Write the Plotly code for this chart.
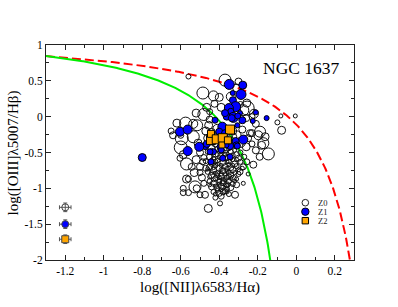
import numpy as np
import plotly.graph_objects as go

# ---------------- data ----------------
# Z0: open circles (x, y, marker diameter)
z0_points = [
    (-0.56, 0.56, 5), (-0.37, 0.51, 12), (-0.30, 0.49, 7), (-0.485, 0.33, 12),
    (-0.43, 0.29, 10), (-0.40, 0.27, 8), (-0.425, 0.18, 7), (-0.465, 0.13, 8),
    (-0.39, 0.13, 8), (-0.255, 0.12, 14), (-0.22, 0.04, 9), (-0.26, -0.02, 7),
    (-0.52, 0.05, 8), (-0.48, 0.03, 12), (-0.45, 0.07, 6), (-0.62, -0.09, 8),
    (-0.575, -0.09, 12), (-0.535, -0.10, 9), (-0.455, -0.12, 8), (-0.515, -0.12, 11),
    (-0.65, -0.20, 6), (-0.64, -0.26, 7), (-0.595, -0.30, 13), (-0.535, -0.28, 12),
    (-0.51, -0.37, 8), (-0.60, -0.43, 13), (-0.587, -0.53, 8), (-0.604, -0.58, 6),
    (-0.57, -0.66, 12), (-0.543, -0.70, 7), (-0.486, -0.63, 6), (-0.50, -0.70, 7),
    (-0.57, -0.87, 8), (-0.49, -0.85, 7), (-0.517, -1.00, 7), (-0.587, -1.00, 6),
    (-0.56, -0.87, 6), (-0.526, -0.98, 12), (-0.587, -1.06, 6), (-0.56, -1.06, 6),
    (-0.50, -1.09, 6), (-0.474, -1.09, 7), (-0.457, -1.28, 8), (-0.396, -1.21, 5),
    (-0.318, -1.09, 7),
    (-0.08, 0.01, 4), (-0.005, 0.01, 4), (-0.098, -0.08, 5), (-0.076, -0.19, 8),
    (-0.24, -0.23, 7), (-0.197, -0.26, 9), (-0.162, -0.28, 8), (-0.188, -0.21, 11),
    (-0.23, -0.23, 7), (-0.171, -0.37, 11), (-0.18, -0.40, 8), (-0.145, -0.52, 12),
    (-0.19, -0.56, 7), (-0.223, -0.67, 7), (-0.257, -0.63, 6), (-0.275, -0.70, 6),
    (-0.292, -0.77, 6), (-0.25, -0.80, 4), (-0.21, -0.47, 7), (-0.23, -0.38, 6),
    (-0.275, -0.93, 4), (-0.31, -0.95, 6), (-0.327, -0.86, 6), (-0.36, -0.95, 6),
    (-0.38, -1.05, 6),
    (-0.46, -0.30, 8), (-0.42, -0.36, 9), (-0.33, -0.28, 8), (-0.29, -0.36, 10),
    (-0.26, -0.42, 8), (-0.37, -0.46, 7), (-0.44, -0.44, 7),
    (-0.46, -0.49, 5), (-0.42, -0.52, 6), (-0.40, -0.48, 5), (-0.37, -0.51, 6),
    (-0.34, -0.49, 5), (-0.31, -0.53, 6), (-0.29, -0.50, 5),
    (-0.45, -0.56, 6), (-0.43, -0.59, 5), (-0.39, -0.55, 5), (-0.36, -0.57, 6),
    (-0.33, -0.54, 5), (-0.30, -0.58, 6), (-0.27, -0.56, 5),
    (-0.47, -0.62, 5), (-0.44, -0.65, 6), (-0.41, -0.61, 5), (-0.38, -0.64, 6),
    (-0.35, -0.62, 5), (-0.32, -0.66, 6), (-0.29, -0.63, 5),
    (-0.45, -0.70, 6), (-0.42, -0.68, 5), (-0.40, -0.72, 6), (-0.37, -0.69, 5),
    (-0.34, -0.71, 6), (-0.31, -0.69, 5), (-0.28, -0.72, 4),
    (-0.46, -0.77, 5), (-0.43, -0.75, 6), (-0.41, -0.79, 5), (-0.38, -0.76, 6),
    (-0.35, -0.78, 5), (-0.33, -0.74, 6), (-0.30, -0.80, 5),
    (-0.44, -0.82, 6), (-0.42, -0.86, 5), (-0.39, -0.83, 6), (-0.36, -0.85, 5),
    (-0.34, -0.82, 6), (-0.31, -0.87, 4),
    (-0.45, -0.90, 5), (-0.43, -0.93, 6), (-0.40, -0.89, 5), (-0.38, -0.92, 6),
    (-0.35, -0.90, 5), (-0.33, -0.94, 5),
    (-0.44, -0.98, 6), (-0.41, -1.00, 5), (-0.39, -0.97, 6), (-0.36, -1.01, 5),
    (-0.34, -0.99, 6),
    (-0.43, -1.05, 5), (-0.40, -1.07, 6), (-0.37, -1.04, 5), (-0.35, -1.08, 5),
    (-0.42, -1.13, 5), (-0.39, -1.11, 6),
    (-0.41, -0.66, 4), (-0.39, -0.74, 4), (-0.36, -0.63, 4), (-0.43, -0.71, 4),
    (-0.37, -0.80, 4), (-0.40, -0.85, 4), (-0.42, -0.79, 4), (-0.35, -0.67, 4),
    (-0.38, -0.59, 4), (-0.44, -0.61, 4), (-0.33, -0.60, 4), (-0.40, -0.94, 4),
    (-0.37, -0.88, 4), (-0.42, -0.97, 4), (-0.45, -0.84, 4), (-0.39, -1.02, 4),
    (-0.36, -0.96, 4), (-0.46, -0.73, 4), (-0.32, -0.78, 4), (-0.34, -0.86, 4),
    (-0.44, -0.47, 4), (-0.41, -0.45, 5), (-0.38, -0.48, 4), (-0.35, -0.44, 5),
    (-0.32, -0.47, 4), (-0.43, -0.54, 4), (-0.40, -0.57, 4), (-0.37, -0.53, 4),
    (-0.34, -0.58, 4), (-0.31, -0.60, 4), (-0.42, -0.63, 5), (-0.39, -0.68, 4),
    (-0.36, -0.73, 5), (-0.33, -0.68, 4), (-0.30, -0.74, 4), (-0.44, -0.78, 4),
    (-0.41, -0.82, 5), (-0.38, -0.87, 4), (-0.35, -0.83, 5), (-0.32, -0.90, 4),
    (-0.43, -0.88, 4), (-0.40, -0.91, 5), (-0.37, -0.95, 4), (-0.41, -1.03, 4),
    (-0.38, -0.99, 5), (-0.45, -0.95, 4), (-0.36, -1.05, 4), (-0.42, -1.08, 4),
    (-0.39, -0.80, 4), (-0.36, -0.76, 4),
    (-0.50, -0.50, 7), (-0.52, -0.60, 8), (-0.48, -0.57, 6), (-0.53, -0.78, 8),
    (-0.50, -0.78, 6), (-0.48, -0.93, 6), (-0.47, -0.72, 6),
    (-0.41, -0.17, 9), (-0.44, -0.22, 8), (-0.33, -0.20, 8), (-0.28, -0.18, 7),
    (-0.31, -0.26, 9), (-0.25, -0.30, 7), (-0.38, -0.33, 8), (-0.47, -0.20, 8),
    (-0.21, -0.10, 7), (-0.23, 0.00, 6), (-0.29, 0.17, 6), (-0.34, 0.28, 9),
    (-0.31, 0.40, 8), (-0.257, 0.19, 8), (-0.275, 0.09, 11), (-0.45, -0.04, 7),
    (-0.60, -0.26, 6),
]

# Z1: filled blue circles (x, y, marker diameter)
z1_points = [
    (-0.348, 0.45, 10), (-0.278, 0.44, 8), (-0.33, 0.33, 5), (-0.287, 0.31, 10),
    (-0.329, 0.23, 7), (-0.315, 0.14, 10), (-0.35, 0.12, 9), (-0.34, 0.075, 6),
    (-0.292, 0.05, 5), (-0.327, -0.01, 10), (-0.361, 0.0, 7), (-0.28, -0.05, 7),
    (-0.226, -0.06, 5), (-0.154, -0.02, 5), (-0.306, -0.12, 5), (-0.384, -0.14, 9),
    (-0.40, -0.21, 7), (-0.37, -0.23, 7), (-0.275, -0.32, 9), (-0.315, -0.34, 7),
    (-0.31, -0.40, 7), (-0.344, -0.41, 7), (-0.396, -0.42, 6), (-0.474, -0.41, 7),
    (-0.43, -0.49, 6), (-0.448, -0.49, 6), (-0.443, -0.63, 6), (-0.39, -0.465, 6),
    (-0.365, -0.395, 6), (-0.306, -0.41, 6), (-0.382, -0.58, 6), (-0.344, -0.56, 6),
    (-0.335, -0.02, 7), (-0.304, 0.01, 6), (-0.37, 0.05, 7), (-0.422, -0.05, 6),
    (-0.604, -0.21, 9), (-0.564, -0.18, 9), (-0.564, -0.48, 9), (-0.504, -0.42, 9),
    (-0.465, -0.38, 7), (-0.80, -0.57, 8), (-0.21, 0.06, 5),
]

# Z2: orange squares (x, y, marker size)
z2_points = [
    (-0.344, -0.18, 9), (-0.443, -0.325, 9), (-0.443, -0.24, 7), (-0.413, -0.316, 9),
    (-0.382, -0.30, 9), (-0.386, -0.395, 6), (-0.355, -0.33, 7),
]

# typical error bars (lower-left corner)
err_x = [-1.2, -1.2, -1.2]
err_y = [-1.265, -1.50, -1.71]
err_dx = 0.03
err_dy = 0.06

# demarcation curves: log([OIII]/Hb) = a / (log([NII]/Ha) - b) + c
kewley_abc = (0.61, 0.47, 1.19)      # red dashed
kauffmann_abc = (0.61, 0.05, 1.30)   # green solid

x_tickvals = [-1.2, -1.0, -0.8, -0.6, -0.4, -0.2, 0.0, 0.2]
x_ticktext = ["-1.2", "-1", "-0.8", "-0.6", "-0.4", "-0.2", "0", "0.2"]
y_tickvals = [1, 0.5, 0, -0.5, -1, -1.5, -2]
y_ticktext = ["1", "0.5", "0", "-0.5", "-1", "-1.5", "-2"]

legend_labels = ["Z0", "Z1", "Z2"]

# ---------------- figure ----------------
FONT = "Liberation Serif, Times New Roman, Times, serif"

fig = go.Figure()

xk = np.linspace(-1.3, 0.279, 400)
a, b, c = kewley_abc
fig.add_trace(go.Scatter(x=xk, y=a / (xk - b) + c, mode="lines",
                         line=dict(color="#ff0000", width=2, dash="9px,4px"),
                         hoverinfo="skip"))
xg = np.linspace(-1.3, -0.13, 400)
a, b, c = kauffmann_abc
fig.add_trace(go.Scatter(x=xg, y=a / (xg - b) + c, mode="lines",
                         line=dict(color="#00ee00", width=2),
                         hoverinfo="skip"))

def unpack(pts):
    return [p[0] for p in pts], [p[1] for p in pts], [p[2] for p in pts]

x0, y0, s0 = unpack(z0_points)
fig.add_trace(go.Scatter(x=x0, y=y0, mode="markers", name="Z0",
                         marker=dict(symbol="circle-open", size=s0, color="#111111",
                                     opacity=1,
                                     line=dict(width=1, color="#111111"))))
x1, y1, s1 = unpack(z1_points)
fig.add_trace(go.Scatter(x=x1, y=y1, mode="markers", name="Z1",
                         marker=dict(symbol="circle", size=s1, color="#0000ff",
                                     opacity=1,
                                     line=dict(width=1, color="#000000"))))
x2, y2, s2 = unpack(z2_points)
fig.add_trace(go.Scatter(x=x2, y=y2, mode="markers", name="Z2",
                         marker=dict(symbol="square", size=s2, color="#ffa500",
                                     opacity=1,
                                     line=dict(width=1, color="#000000"))))

err_symbols = ["circle-open", "circle", "square"]
err_colors = ["#444444", "#0000ff", "#ffa500"]
for i in range(3):
    fig.add_trace(go.Scatter(
        x=[err_x[i]], y=[err_y[i]], mode="markers",
        marker=dict(symbol=err_symbols[i], size=7, color=err_colors[i], opacity=1,
                    line=dict(width=1, color="#444444")),
        error_x=dict(type="constant", value=err_dx, color="#555555", thickness=1, width=2),
        error_y=dict(type="constant", value=err_dy, color="#555555", thickness=1, width=2),
    ))

axis_common = dict(
    showline=True, linecolor="#222222", linewidth=1, mirror="allticks",
    ticks="inside", ticklen=5, tickwidth=1, tickcolor="#222222",
    showgrid=False, zeroline=False,
    tickfont=dict(family=FONT, size=11.5, color="black"),
)
fig.update_xaxes(range=[-1.3, 0.3], tickmode="array", tickvals=x_tickvals,
                 ticktext=x_ticktext,
                 minor=dict(ticks="inside", dtick=0.1, tick0=0, ticklen=3,
                            tickcolor="#222222", showgrid=False),
                 **axis_common)
fig.update_yaxes(range=[-2, 1], tickmode="array", tickvals=y_tickvals,
                 ticktext=y_ticktext,
                 minor=dict(ticks="inside", dtick=0.25, tick0=0, ticklen=3,
                            tickcolor="#222222", showgrid=False),
                 **axis_common)

annotations = [
    dict(text="NGC 1637", x=0.828, y=0.893, xref="paper", yref="paper",
         showarrow=False, font=dict(family=FONT, size=17.5, color="black"),
         xanchor="center", yanchor="middle"),
    dict(text="log([NII]λ6583/Hα)", x=0.5, y=-0.13, xref="paper", yref="paper",
         showarrow=False, font=dict(family=FONT, size=15, color="black"),
         xanchor="center", yanchor="middle"),
    dict(text="log([OIII]λ5007/Hβ)", x=-0.104, y=0.5, xref="paper", yref="paper",
         showarrow=False, textangle=-90, font=dict(family=FONT, size=15, color="black"),
         xanchor="center", yanchor="middle"),
]
leg_y = [0.2665, 0.2247, 0.1828]
for lab, ly in zip(legend_labels, leg_y):
    annotations.append(dict(text=lab, x=0.878, y=ly, xref="paper", yref="paper",
                            showarrow=False, xanchor="left", yanchor="middle",
                            font=dict(family=FONT, size=8.5, color="#222222")))

shapes = [
    dict(type="circle", xref="paper", yref="paper", xsizemode="pixel", ysizemode="pixel",
         xanchor=0.842, yanchor=leg_y[0], x0=-3.3, x1=3.3, y0=-3.3, y1=3.3,
         line=dict(color="#222222", width=1), fillcolor="rgba(0,0,0,0)"),
    dict(type="circle", xref="paper", yref="paper", xsizemode="pixel", ysizemode="pixel",
         xanchor=0.842, yanchor=leg_y[1], x0=-3.7, x1=3.7, y0=-3.7, y1=3.7,
         line=dict(color="#000000", width=1), fillcolor="#0000ff"),
    dict(type="rect", xref="paper", yref="paper", xsizemode="pixel", ysizemode="pixel",
         xanchor=0.842, yanchor=leg_y[2], x0=-3.2, x1=3.2, y0=-3.2, y1=3.2,
         line=dict(color="#000000", width=1), fillcolor="#ffa500"),
]

fig.update_layout(
    width=398, height=307,
    margin=dict(l=46, r=44, t=45, b=47),
    plot_bgcolor="white", paper_bgcolor="white",
    showlegend=False,
    hovermode=False,
    font=dict(family=FONT, color="black"),
    annotations=annotations,
    shapes=shapes,
)

fig.write_html("out.html",
               config={"displayModeBar": False, "staticPlot": True},
               post_script="document.body.style.margin='0';document.body.style.padding='0';")
